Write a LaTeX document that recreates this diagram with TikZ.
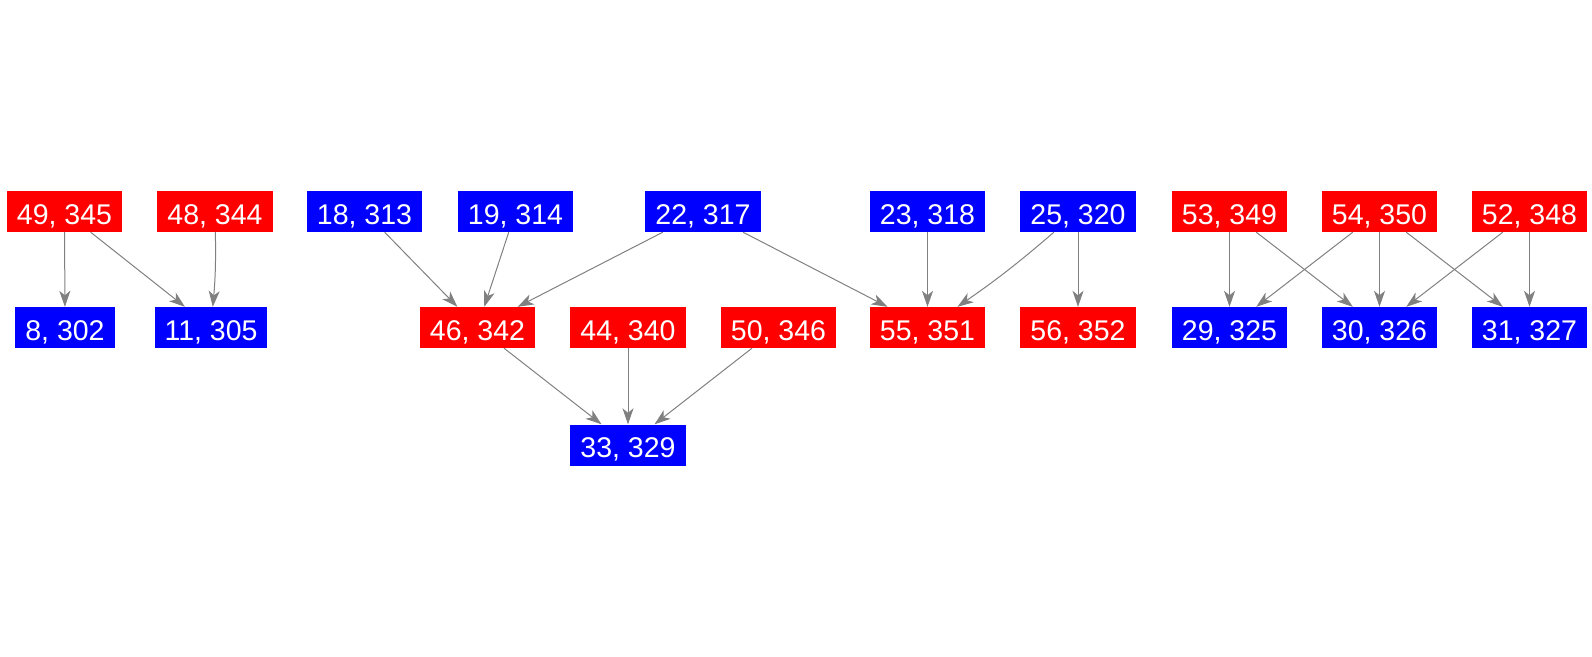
\documentclass[tikz,border=0pt]{standalone}
\usepackage{fontspec}
\setmainfont{Liberation Sans}
\usetikzlibrary{arrows.meta}
\definecolor{nred}{RGB}{255,0,0}
\definecolor{nblue}{RGB}{0,0,255}
\definecolor{egray}{RGB}{128,128,128}
\tikzset{
  box/.style={rectangle, text=white, font=\fontsize{28.5}{32}\selectfont,
    inner xsep=10pt, inner ysep=0pt, minimum height=41pt,
    text height=25pt, text depth=0pt, anchor=center},
  rbox/.style={box, fill=nred},
  bbox/.style={box, fill=nblue},
  edge/.style={draw=egray, line width=1pt, -{Stealth[length=16pt, width=11pt, inset=4.5pt]}}
}
\begin{document}
\begin{tikzpicture}[x=1pt,y=-1pt]
\useasboundingbox (0,0) rectangle (1592,656);
\def\ra{211.5}
\def\rb{327.5}
\def\rc{445}
% left group
\node[rbox] (n49) at (64.5,\ra) {49, 345};
\node[rbox] (n48) at (215,\ra) {48, 344};
\node[bbox] (n8) at (65,\rb) {8, 302};
\node[bbox] (n11) at (211,\rb) {11, 305};
% middle group
\node[bbox] (n18) at (364.5,\ra) {18, 313};
\node[bbox] (n19) at (515.5,\ra) {19, 314};
\node[bbox] (n22) at (703,\ra) {22, 317};
\node[bbox] (n23) at (927.5,\ra) {23, 318};
\node[bbox] (n25) at (1078,\ra) {25, 320};
\node[rbox] (n46) at (477.5,\rb) {46, 342};
\node[rbox] (n44) at (628,\rb) {44, 340};
\node[rbox] (n50) at (778.5,\rb) {50, 346};
\node[rbox] (n55) at (927.5,\rb) {55, 351};
\node[rbox] (n56) at (1078,\rb) {56, 352};
\node[bbox] (n33) at (628,\rc) {33, 329};
% right group
\node[rbox] (n53) at (1229.5,\ra) {53, 349};
\node[rbox] (n54) at (1379.5,\ra) {54, 350};
\node[rbox] (n52) at (1529.5,\ra) {52, 348};
\node[bbox] (n29) at (1229.5,\rb) {29, 325};
\node[bbox] (n30) at (1379.5,\rb) {30, 326};
\node[bbox] (n31) at (1529.5,\rb) {31, 327};
% edges
\draw[edge] (n49) -- (n8);
\draw[edge] (n49) -- (n11);
\draw[edge] (n48) to[bend left=3] (n11);
\draw[edge] (n18) -- (n46);
\draw[edge] (n19) -- (n46);
\draw[edge] (n22) -- (n46);
\draw[edge] (n22) -- (n55);
\draw[edge] (n23) -- (n55);
\draw[edge] (n25) to[bend left=3] (n55);
\draw[edge] (n25) -- (n56);
\draw[edge] (n46) -- (n33);
\draw[edge] (n44) -- (n33);
\draw[edge] (n50) -- (n33);
\draw[edge] (n53) -- (n29);
\draw[edge] (n53) -- (n30);
\draw[edge] (n54) -- (n29);
\draw[edge] (n54) -- (n30);
\draw[edge] (n54) -- (n31);
\draw[edge] (n52) -- (n30);
\draw[edge] (n52) -- (n31);
\end{tikzpicture}
\end{document}
